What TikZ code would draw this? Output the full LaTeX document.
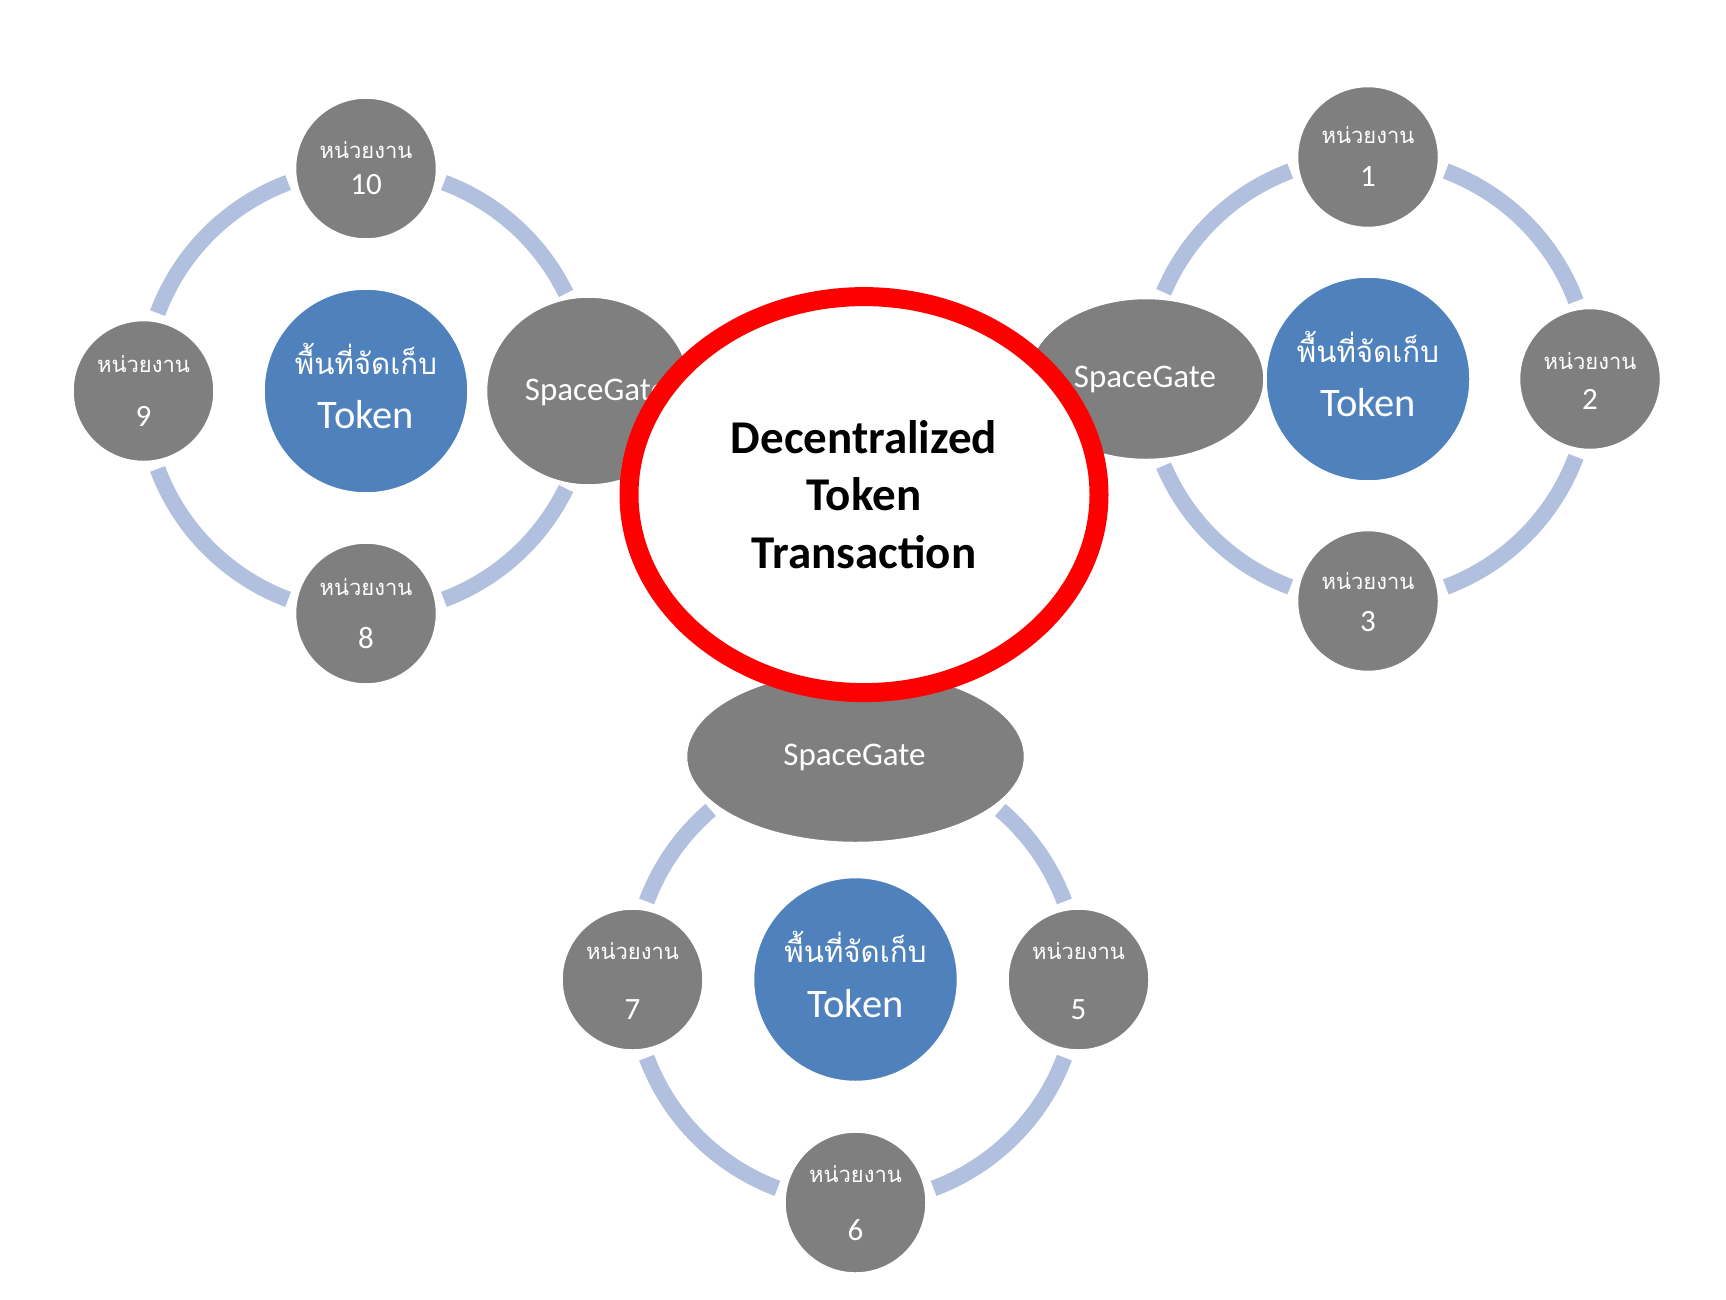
\documentclass[tikz,border=0pt]{standalone}
\usepackage{fontspec}
\setmainfont{Carlito}
\newfontfamily\thaifont[Script=Thai]{Loma}
\usetikzlibrary{shapes.geometric}
\definecolor{nodegray}{HTML}{7F7F7F}
\definecolor{storeblue}{HTML}{4F81BD}
\definecolor{ringblue}{HTML}{B0C0DE}
\definecolor{ovalred}{HTML}{FF0000}
\newcommand\ringpart[4]{\draw[ringarc] ([shift={(#2:#4pt)}]#1) arc[start angle=#2, end angle=#3, radius=#4pt];}
\newcommand\unitcircle[6]{%
  \node[unitnode] (#1) at (#2,#3) {};
  \node[thaismall] (#1t) at ([yshift=#5pt]#1.center) {หน่วยงาน};
  \node[digittext] (#1d) at ([yshift=-#6pt]#1.center) {#4};}
\newcommand\storecircle[3]{%
  \node[storenode] (#1) at (#2,#3) {};
  \node[thaibig] (#1t) at ([yshift=17pt]#1.center) {พื้นที่จัดเก็บ};
  \node[tokentext] (#1k) at ([yshift=-37.5pt]#1.center) {Token};}
\begin{document}
\begin{tikzpicture}[x=1pt,y=1pt,
  unitnode/.style={circle, fill=nodegray, draw=white, line width=1.5pt, minimum size=141pt, inner sep=0pt},
  storenode/.style={circle, fill=storeblue, draw=white, line width=1.5pt, minimum size=204pt, inner sep=0pt},
  gatenode/.style={ellipse, fill=nodegray, draw=white, line width=1.5pt, inner sep=0pt},
  ringarc/.style={draw=ringblue, line width=16pt},
  thaismall/.style={text=white, font=\thaifont\fontsize{22}{26}\selectfont, inner sep=0pt, anchor=base},
  thaibig/.style={text=white, font=\thaifont\fontsize{29.5}{34}\selectfont, inner sep=0pt, anchor=base},
  digittext/.style={text=white, font=\fontsize{31}{36}\selectfont, inner sep=0pt, anchor=base},
  tokentext/.style={text=white, font=\fontsize{40.5}{46}\selectfont, inner sep=0pt, anchor=base},
  gatetext/.style={text=white, font=\fontsize{33}{38}\selectfont, inner sep=0pt, anchor=base},
  centertext/.style={ellipse, draw=ovalred, fill=white, line width=19pt, inner sep=0pt,
    minimum width=470pt, minimum height=396pt, align=center,
    font=\bfseries\fontsize{47}{57.5}\selectfont}
]
\useasboundingbox (0,0) rectangle (1726,-1299);
% group centres
\coordinate (L) at (366,-391);
\coordinate (R) at (1368,-379);
\coordinate (B) at (855.5,-979.5);
% rings
\ringpart{L}{26}{69.5}{222.5}
\ringpart{L}{110.5}{159.5}{222.5}
\ringpart{L}{200.5}{249.5}{222.5}
\ringpart{L}{290.5}{334}{222.5}
\ringpart{R}{20.5}{69.5}{222}
\ringpart{R}{110.5}{157}{222}
\ringpart{R}{203}{249.5}{222}
\ringpart{R}{290.5}{339.5}{222}
\ringpart{B}{20.5}{49.5}{223}
\ringpart{B}{130.5}{159.5}{223}
\ringpart{B}{200.5}{249.5}{223}
\ringpart{B}{290.5}{339.5}{223}
% left group
\storecircle{sL}{366}{-391}
\unitcircle{n10}{366}{-168.5}{10}{10.5}{26}
\unitcircle{n9}{143.5}{-391}{9}{18.5}{35.5}
\unitcircle{n8}{366}{-613.5}{8}{18}{35}
\node[gatenode, minimum width=204pt, minimum height=188pt] (gL) at (588.5,-391) {};
\node[gatetext] (gLt) at (596,-400) {SpaceGate};
% right group
\unitcircle{n1}{1368}{-157}{1}{14}{29.3}
\unitcircle{n2}{1590}{-379}{2}{9.5}{30.5}
\unitcircle{n3}{1368}{-601}{3}{11.3}{30.4}
\node[gatenode, minimum width=236pt, minimum height=161pt] (gR) at (1146,-379) {};
\node[gatetext] (gRt) at (1145,-387) {SpaceGate};
\storecircle{sR}{1368}{-379}
% bottom group
\storecircle{sB}{855.5}{-979.5}
\unitcircle{n7}{632.5}{-979.5}{7}{20}{40}
\unitcircle{n5}{1078.5}{-979.5}{5}{20}{40}
\unitcircle{n6}{855.5}{-1202.5}{6}{20.5}{38}
\node[gatenode, minimum width=338pt, minimum height=172pt] (gB) at (855.5,-756.5) {};
\node[gatetext] (gBt) at (854.5,-765) {SpaceGate};
% centre
\node[centertext] (ct) at (864,-494.6) {Decentralized\\Token\\Transaction};
\end{tikzpicture}
\end{document}
